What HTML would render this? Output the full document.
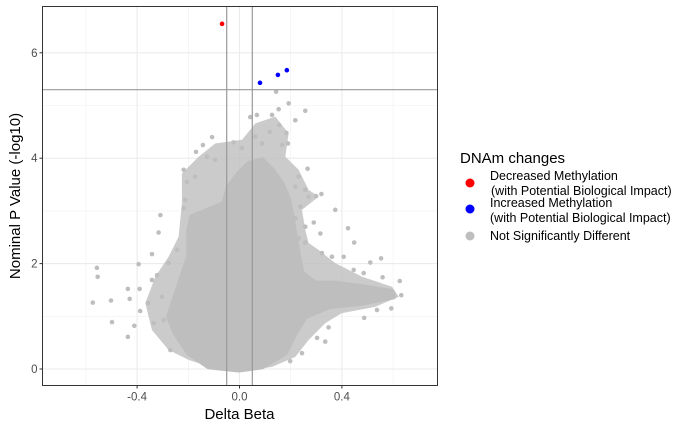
<!DOCTYPE html>
<html><head><meta charset="utf-8"><style>
html,body{margin:0;padding:0;background:#fff;}
svg{display:block;font-family:"Liberation Sans",sans-serif;}
</style></head><body>
<svg id="chart" width="700" height="432">
<g id="grid"></g>
<g id="cloud"></g>
<g id="refs"></g>
<g id="sig"></g>
<rect x="42.5" y="6.5" width="395" height="379" fill="none" stroke="#333" stroke-width="1"/>
<g id="axes"></g>
<text x="239.5" y="419" font-size="15" text-anchor="middle" fill="#000">Delta Beta</text>
<text transform="translate(20,196) rotate(-90)" font-size="15" text-anchor="middle" fill="#000">Nominal P Value (-log10)</text>
<g>
<text x="460" y="163" font-size="15" fill="#000">DNAm changes</text>
<circle cx="470" cy="183" r="4.5" fill="#ff0000"/>
<text x="490" y="180" font-size="12.5" fill="#000">Decreased Methylation</text>
<text x="491" y="195" font-size="12.5" fill="#000">(with Potential Biological Impact)</text>
<circle cx="470" cy="209" r="4.5" fill="#0000ff"/>
<text x="490" y="207" font-size="12.5" fill="#000">Increased Methylation</text>
<text x="490" y="222" font-size="12.5" fill="#000">(with Potential Biological Impact)</text>
<circle cx="470" cy="236" r="4.5" fill="#bebebe"/>
<text x="490" y="240" font-size="12.5" fill="#000">Not Significantly Different</text>
</g>
</svg>
<script>
const xTicks=[-0.4,0,0.4];
const xTickLabels=["-0.4","0.0","0.4"];
const xMinor=[-0.6,-0.2,0.2,0.6];
const yTicks=[0,2,4,6];
const yTickLabels=["0","2","4","6"];
const yMinor=[1,3,5];
const betaThreshold=[-0.05,0.05];
const pThreshold=5.3;
const haloX=[-0.277,-0.342,-0.368,-0.329,-0.277,-0.238,-0.225,-0.225,-0.159,-0.095,0.010,0.062,0.140,0.192,0.179,0.231,0.270,0.309,0.244,0.257,0.270,0.309,0.374,0.479,0.596,0.622,0.530,0.400,0.335,0.270,0.218,0.127,0.010,-0.095,-0.198];
const haloY=[0.36,0.74,1.25,1.75,2.13,2.51,3.14,3.71,4.03,4.28,4.35,4.66,4.79,4.47,4.03,3.78,3.40,3.27,3.02,2.64,2.39,2.26,2.01,1.75,1.56,1.37,1.18,1.06,0.87,0.55,0.23,0.04,-0.05,0.01,0.17];
const coreX=[-0.120,-0.198,-0.251,-0.277,-0.251,-0.225,-0.198,-0.198,-0.186,-0.120,-0.062,-0.042,-0.003,0.036,0.088,0.127,0.166,0.192,0.205,0.218,0.231,0.244,0.296,0.374,0.479,0.596,0.602,0.479,0.348,0.257,0.218,0.179,0.088,-0.003];
const coreY=[0.04,0.30,0.68,0.99,1.37,1.75,2.13,2.64,2.89,3.02,3.14,3.46,3.71,3.90,3.97,3.78,3.52,3.21,2.89,2.51,2.13,1.82,1.63,1.63,1.56,1.47,1.37,1.25,1.18,0.99,0.68,0.30,0.04,-0.02];
const nsX=[-0.557,-0.554,-0.573,-0.502,-0.498,-0.436,-0.429,-0.411,-0.436,-0.390,-0.388,-0.394,-0.342,-0.316,-0.309,-0.357,-0.335,-0.270,-0.218,-0.170,-0.107,-0.143,-0.023,0.042,0.068,0.143,0.192,0.153,0.257,0.218,0.127,0.155,0.118,0.183,0.189,0.166,0.266,0.320,0.299,0.374,0.290,0.316,0.424,0.448,0.407,0.553,0.511,0.626,0.632,0.593,0.487,0.537,0.335,0.348,0.198,0.244,0.303,0.485,0.559,0.446,0.361,0.322,0.257,-0.322,-0.277,-0.244,-0.342,-0.303,-0.296,-0.198,-0.159,0.062,0.088,0.010,-0.095,-0.127,-0.173,-0.205,-0.212,-0.218,0.231,0.218,0.257,0.270,0.238,0.218,0.257,0.231];
const nsY=[1.92,1.75,1.26,1.30,0.89,1.52,1.33,0.82,0.61,1.52,1.10,1.99,2.18,2.59,2.92,1.25,0.87,0.36,3.78,4.12,4.40,4.25,4.30,4.78,4.82,5.26,5.04,4.93,4.90,4.72,4.82,4.63,4.50,4.48,4.28,4.25,3.80,3.32,3.28,3.02,2.78,2.57,2.67,2.40,2.13,2.10,2.02,1.67,1.40,1.15,0.97,1.12,0.52,0.79,0.15,0.30,0.59,1.82,1.74,1.88,2.13,2.20,2.40,1.78,2.01,2.26,1.69,1.37,0.93,0.30,0.23,4.41,4.28,4.19,3.97,4.03,3.65,3.55,3.21,3.05,3.65,3.46,3.40,3.27,3.08,2.86,2.70,2.48];
const decX=[-0.068];
const decY=[6.55];
const incX=[0.08,0.15,0.185];
const incY=[5.43,5.58,5.67];

const NS="http://www.w3.org/2000/svg";
const X0=42.5,X1=437.5,Y0=6.5,Y1=385.5;
function sx(v){return 239.5+v*256;}
function sy(v){return 369-v*52.7;}
function mk(tag,attrs,parent){const e=document.createElementNS(NS,tag);for(const k in attrs)e.setAttribute(k,attrs[k]);parent.appendChild(e);return e;}
const grid=document.getElementById('grid');
mk('rect',{x:X0,y:Y0,width:X1-X0,height:Y1-Y0,fill:'#fff'},grid);
xMinor.forEach(v=>{const l=mk('line',{x1:sx(v),x2:sx(v),y1:Y0,y2:Y1,stroke:'#f0f0f0','stroke-width':0.6},grid);});
yMinor.forEach(v=>{const l=mk('line',{x1:X0,x2:X1,y1:sy(v),y2:sy(v),stroke:'#f0f0f0','stroke-width':0.6},grid);});
xTicks.forEach(v=>{const l=mk('line',{x1:sx(v),x2:sx(v),y1:Y0,y2:Y1,stroke:'#ebebeb','stroke-width':1.1},grid);});
yTicks.forEach(v=>{const l=mk('line',{x1:X0,x2:X1,y1:sy(v),y2:sy(v),stroke:'#ebebeb','stroke-width':1.1},grid);});
const cloud=document.getElementById('cloud');
const hpts=haloX.map((v,i)=>sx(v)+','+sy(haloY[i])).join(' ');
const halo=mk('polygon',{points:hpts,fill:'#bebebe','fill-opacity':0.8,stroke:'none'},cloud);


const pts=coreX.map((v,i)=>sx(v)+','+sy(coreY[i])).join(' ');
const poly=mk('polygon',{points:pts,fill:'#bebebe',stroke:'#bebebe','stroke-width':5,'stroke-linejoin':'round'},cloud);


nsX.forEach((v,i)=>{const c=mk('circle',{cx:sx(v),cy:sy(nsY[i]),r:2.3,fill:'#bebebe'},cloud);});
const refs=document.getElementById('refs');
betaThreshold.forEach(v=>{const l=mk('line',{x1:sx(v),x2:sx(v),y1:Y0,y2:Y1,stroke:'#999','stroke-width':1.2},refs);});
const hl=mk('line',{x1:X0,x2:X1,y1:sy(pThreshold),y2:sy(pThreshold),stroke:'#999','stroke-width':1.2},refs);


const sig=document.getElementById('sig');
decX.forEach((v,i)=>{const c=mk('circle',{cx:sx(v),cy:sy(decY[i]),r:2.3,fill:'#ff0000'},sig);});
incX.forEach((v,i)=>{const c=mk('circle',{cx:sx(v),cy:sy(incY[i]),r:2.3,fill:'#0000ff'},sig);});
const axes=document.getElementById('axes');
xTicks.forEach((v,i)=>{const t=mk('line',{x1:sx(v),x2:sx(v),y1:Y1,y2:Y1+3,stroke:'#333'},axes);
const tx=mk('text',{x:sx(v),y:Y1+15,'font-size':11.5,'text-anchor':'middle',fill:'#4d4d4d'},axes);tx.textContent=xTickLabels[i];});
yTicks.forEach((v,i)=>{const t=mk('line',{x1:X0-3,x2:X0,y1:sy(v),y2:sy(v),stroke:'#333'},axes);
const tx=mk('text',{x:X0-5,y:sy(v)+4,'font-size':11.5,'text-anchor':'end',fill:'#4d4d4d'},axes);tx.textContent=yTickLabels[i];});
</script>
</body></html>
